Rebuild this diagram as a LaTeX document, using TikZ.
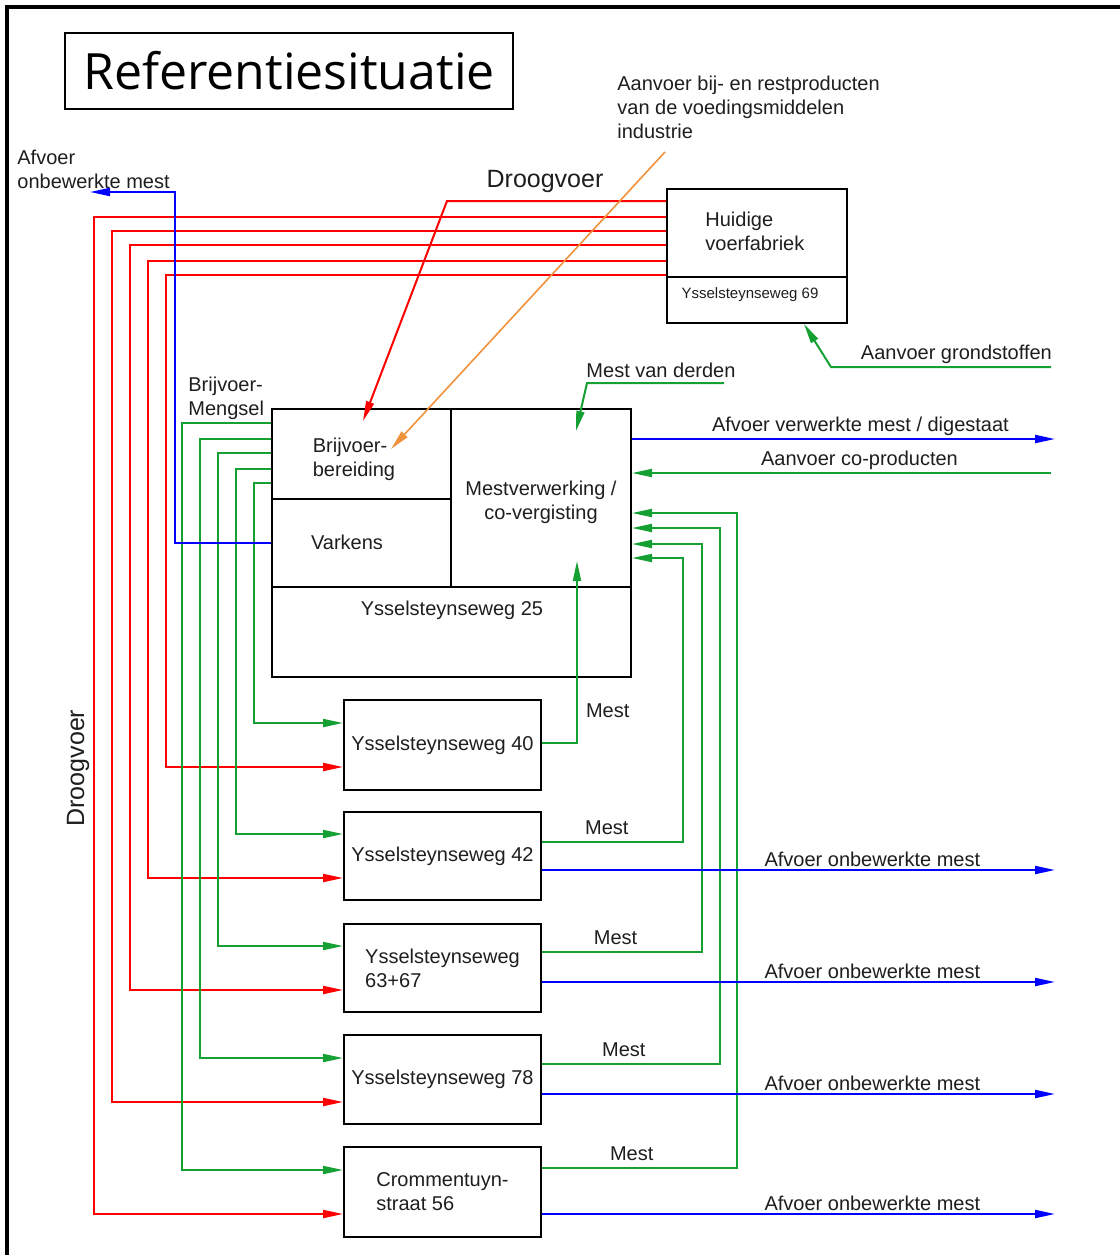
\documentclass[tikz,border=0pt]{standalone}
\usepackage{fontspec}
\setmainfont{Liberation Sans}
\newfontfamily\titelfont{Open Sans}
\usetikzlibrary{arrows.meta, positioning, calc}

\definecolor{voerrood}{RGB}{255,0,0}
\definecolor{mestgroen}{RGB}{20,160,50}
\definecolor{afvoerblauw}{RGB}{0,0,255}
\definecolor{restoranje}{RGB}{240,145,60}
\definecolor{tekst}{RGB}{30,30,30}

\begin{document}
\begin{tikzpicture}[
    x=0.5pt, y=-0.5pt,
    gebouw/.style={rectangle, draw=black, line width=1pt, inner sep=0pt, text=tekst,
        font=\fontsize{10}{12}\selectfont, align=left},
    woning/.style={gebouw, minimum width=98.5pt, minimum height=44.5pt},
    lbl/.style={font=\fontsize{10}{12}\selectfont, text=tekst, inner sep=1pt, align=left},
    pijl/.style={-{Triangle[length=10pt, width=4pt]}, line width=1pt},
    voer/.style={pijl, draw=voerrood},
    groen/.style={pijl, draw=mestgroen},
    afvoer/.style={pijl, draw=afvoerblauw},
    rest/.style={pijl, draw=restoranje, line width=0.8pt}
]
\useasboundingbox (0,0) rectangle (1120,1255);

%% Frame
\draw[line width=1.6pt] (7,1255) -- (7,7) -- (1120,7);

%% Title
\node[gebouw, minimum width=224pt, minimum height=38pt,
      font=\titelfont\fontsize{25}{30}\selectfont, text=black] (titel) at (289,71)
    {Referentiesituatie};

%% Huidige voerfabriek
\node[gebouw, minimum width=90pt, minimum height=67pt] (fab) at (757,256) {};
\draw[line width=1pt] (fab.west |- 0,277) -- (fab.east |- 0,277);
\node[lbl, anchor=west] (fabnaam) at (703,231) {Huidige\\voerfabriek};
\node[lbl, font=\fontsize{7.5}{9}\selectfont] (fabadres) at (750,295) {Ysselsteynseweg 69};

%% Ysselsteynseweg 25
\node[gebouw, minimum width=179.5pt, minimum height=134pt] (bedrijf) at (451.5,543) {};
\node[gebouw, minimum width=89.5pt, minimum height=45pt] (brij) at (361.5,454) {};
\node[gebouw, minimum width=89.5pt, minimum height=44pt] (varkens) at (361.5,543) {};
\node[gebouw, minimum width=90pt, minimum height=89pt] (mestv) at (541,498) {};
\node[lbl] (brijtekst) at (354,459) {Brijvoer-\\bereiding};
\node[lbl] (varkenstekst) at (347,542) {Varkens};
\node[lbl, align=center] (mestvtekst) at (541,502) {Mestverwerking /\\co-vergisting};
\node[lbl] (adres25) at (452,610) {Ysselsteynseweg 25};

%% Other locations
\node[woning, minimum height=45pt] (r40) at (442.5,745) {Ysselsteynseweg 40};
\node[woning, minimum height=44pt] (r42) at (442.5,856) {Ysselsteynseweg 42};
\node[woning, minimum height=44pt] (r63) at (442.5,968) {Ysselsteynseweg\\63+67};
\node[woning] (r78) at (442.5,1079.5) {Ysselsteynseweg 78};
\node[woning, minimum height=45pt] (rcrom) at (442.5,1192) {Crommentuyn-\\straat 56};

%% Free ends
\coordinate (afvoerpunt) at (90,192);
\coordinate (reststart)  at (665,152);
\coordinate (grond)      at (1051,367);
\coordinate (derden)     at (724,383);
\coordinate (digestaat)  at (1055,439);
\coordinate (coprod)     at (1051,473);

%% Labels
\node[lbl, anchor=west] (afvoerlbl) at (15,169) {Afvoer\\onbewerkte mest};
\node[lbl, anchor=west] (mengsellbl) at (186,398) {Brijvoer-\\Mengsel};
\node[lbl, anchor=west] (restlbl) at (615,107)
    {Aanvoer bij- en restproducten\\van de voedingsmiddelen\\industrie};
\node[lbl, font=\fontsize{12.5}{15}\selectfont] (droogboven) at (545,181) {Droogvoer};
\node[lbl, font=\fontsize{12.5}{15}\selectfont, rotate=90] (droogzij) at (78,768) {Droogvoer};

%% ── Droogvoer (red) ─────────────────────────────────────────────
\draw[voer] (fab.west |- 0,201) -- (447,201) -- ([shift={(1.5,13)}]brij.north);
\foreach \ya/\xv/\yb/\dest in {217/94/1214/rcrom, 231/112/1102/r78,
        245/130/990/r63, 261/148/878/r42, 275/166/767/r40}
    \draw[voer] (fab.west |- 0,\ya) -| (\xv,\yb) -- (\dest.west |- 0,\yb);

%% ── Brijvoer-mengsel (green) ────────────────────────────────────
\foreach \ya/\xv/\yb/\dest in {423/182/1170/rcrom, 439/200/1058/r78,
        453/218/946/r63, 469/236/834/r42, 483/254/723/r40}
    \draw[groen] (brij.west |- 0,\ya) -| (\xv,\yb) -- (\dest.west |- 0,\yb);

%% ── Mest to Mestverwerking ──────────────────────────────────────
\draw[groen] (r40.east |- 0,743) -|
    node[lbl, right=3pt, pos=0.59] (mestr40) {Mest}
    ([shift={(36,-27)}]mestv.south);
\foreach \ya/\xv/\yb/\src in {1168/737/513/rcrom, 1064/720/528/r78,
        952/702/544/r63, 842/683/558/r42}
    \draw[groen] (\src.east |- 0,\ya) -|
        node[lbl, above=2pt, pos=0.23] (mest\src) {Mest}
        (\xv,\yb) -- (mestv.east |- 0,\yb);

%% ── Afvoer onbewerkte mest (blue) ───────────────────────────────
\draw[afvoer] (varkens.west) -| (175,192) -- (afvoerpunt);
\foreach \y/\src in {870/r42, 982/r63, 1094/r78, 1214/rcrom} {
    \coordinate (uit\src) at (1055,\y);
    \draw[afvoer] (\src.east |- 0,\y) --
        node[lbl, above, pos=0.644] (afvoer\src) {Afvoer onbewerkte mest}
        (uit\src);
}

%% ── Mestverwerking in/out ───────────────────────────────────────
\draw[afvoer] (mestv.east |- 0,439) --
    node[lbl, above, pos=0.54] (digestlbl) {Afvoer verwerkte mest / digestaat}
    (digestaat);
\draw[groen] (coprod) --
    node[lbl, above, pos=0.457] (coprodlbl) {Aanvoer co-producten}
    (mestv.east |- 0,473);
\draw[groen] (derden) --
    node[lbl, above=1pt, pos=0.46] (derdenlbl) {Mest van derden}
    (587,383) -- ([shift={(35,23)}]mestv.north);

%% ── Aanvoer grondstoffen + rest products ───────────────────────
\draw[groen] (grond) --
    node[lbl, above, pos=0.43] (grondlbl) {Aanvoer grondstoffen}
    (831,367) -- (fab.south -| 804,0);
\draw[rest] (reststart) -- ([shift={(29.5,-5)}]brij.center);

\end{tikzpicture}
\end{document}
